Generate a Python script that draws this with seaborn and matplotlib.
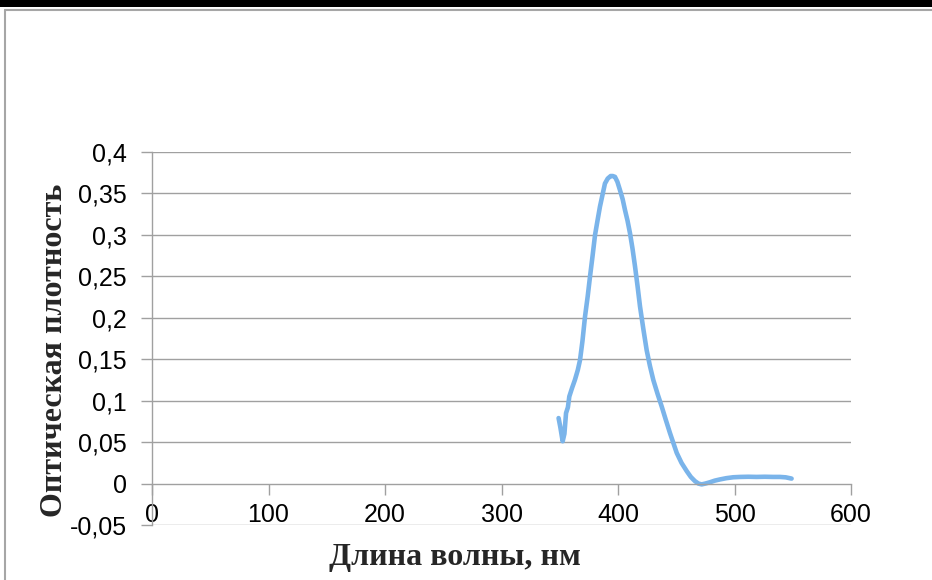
import matplotlib
matplotlib.use("Agg")
import matplotlib.pyplot as plt
import seaborn as sns
import pandas as pd
from matplotlib.patches import Rectangle
from matplotlib.lines import Line2D

wavelength = [349, 350.5, 352.5, 354, 355.4, 357, 358.2, 360.5, 363, 365.5, 367.4, 369.5,
              371.7, 374, 376, 378.2, 380.3, 382.5, 384.5, 386.8, 388.8, 391.2, 393.7, 395.5,
              397.4, 399.5, 401.7, 404, 406, 408.2, 410.3, 412.5, 414.6, 416.8, 418.9, 421.8,
              424.6, 427.4, 430.3, 434, 437.5, 441, 444.6, 447.5, 450.4, 454.5, 459, 462.5,
              466, 469, 471.8, 475, 479, 483, 487.6, 493, 499, 505, 512, 519, 526, 533, 539,
              544, 549]
absorbance = [0.079, 0.068, 0.051, 0.06, 0.085, 0.092, 0.105, 0.115, 0.125, 0.137, 0.149, 0.172,
              0.2016, 0.226, 0.25, 0.275, 0.30, 0.318, 0.334, 0.349, 0.362, 0.368, 0.371, 0.371,
              0.370, 0.364, 0.354, 0.343, 0.33, 0.317, 0.302, 0.283, 0.262, 0.238, 0.2136, 0.186,
              0.161, 0.142, 0.125, 0.108, 0.093, 0.077, 0.061, 0.049, 0.037, 0.025, 0.015, 0.008,
              0.003, 0.0, -0.001, 0.0, 0.0016, 0.0035, 0.005, 0.0065, 0.0076, 0.008, 0.0082,
              0.008, 0.0082, 0.008, 0.008, 0.0075, 0.006]

y_ticks = [-0.05, 0, 0.05, 0.1, 0.15, 0.2, 0.25, 0.3, 0.35, 0.4]
y_tick_labels = ["-0,05", "0", "0,05", "0,1", "0,15", "0,2", "0,25", "0,3", "0,35", "0,4"]
x_ticks = [0, 100, 200, 300, 400, 500, 600]
x_tick_labels = ["0", "100", "200", "300", "400", "500", "600"]

x_label = "Длина волны, нм"
y_label = "Оптическая плотность"

df = pd.DataFrame({"wl": wavelength, "a": absorbance})

sns.set_theme(style="white")
plt.rcParams['font.family'] = ['Liberation Sans', 'DejaVu Sans']

W, H = 932, 580
fig = plt.figure(figsize=(W / 100, H / 100), dpi=100)
ax = fig.add_axes([152 / W, (H - 525) / H, (851 - 152) / W, (525 - 152) / H])

grid_c = "#A0A0A0"
sns.lineplot(data=df, x="wl", y="a", ax=ax, color="#7AB4EA", linewidth=3.3, sort=False)

ax.set_xlim(0, 600)
ax.set_ylim(-0.05, 0.4)
ax.set_yticks(y_ticks)
ax.set_yticklabels(y_tick_labels)
ax.set_xticks(x_ticks)
ax.set_xticklabels(x_tick_labels)

for y in y_ticks:
    if y != 0:
        ax.axhline(y, color=grid_c, lw=1, zorder=0)

for s in ["top", "right"]:
    ax.spines[s].set_visible(False)
ax.spines["bottom"].set_position(("data", 0))
ax.spines["bottom"].set_color(grid_c)
ax.spines["left"].set_color(grid_c)
ax.spines["bottom"].set_linewidth(1)
ax.spines["left"].set_linewidth(1)

ax.tick_params(axis="y", direction="out", length=8, width=1, color=grid_c, pad=10,
               labelsize=18, labelcolor="black", left=True)
ax.tick_params(axis="x", direction="out", length=8, width=1, color=grid_c, pad=6,
               labelsize=18, labelcolor="black", bottom=True)

ax.set_xlabel(x_label, fontsize=23, fontweight="bold", family="Liberation Serif")
ax.set_ylabel(y_label, fontsize=23, fontweight="bold", family="Liberation Serif")
ax.xaxis.set_label_coords((455 - 152) / 699, -(557 - 525) / 373)
ax.xaxis.label.set_va("center")
ax.yaxis.set_label_coords((55 - 152) / 699, (525 - 350) / 373)
ax.yaxis.label.set_va("center")

# frame decorations
fig.patches.append(Rectangle((0, 1 - 7 / H), 1, 7 / H, transform=fig.transFigure,
                             facecolor="black", edgecolor="none", zorder=10))
fig.lines.append(Line2D([4.5 / W, 4.5 / W], [0, 1 - 10 / H], transform=fig.transFigure,
                        color="#A6A6A6", lw=1.5))
fig.lines.append(Line2D([4.5 / W, 1], [1 - 10 / H, 1 - 10 / H], transform=fig.transFigure,
                        color="#A6A6A6", lw=1.5))

fig.savefig("out.png", dpi=100)
